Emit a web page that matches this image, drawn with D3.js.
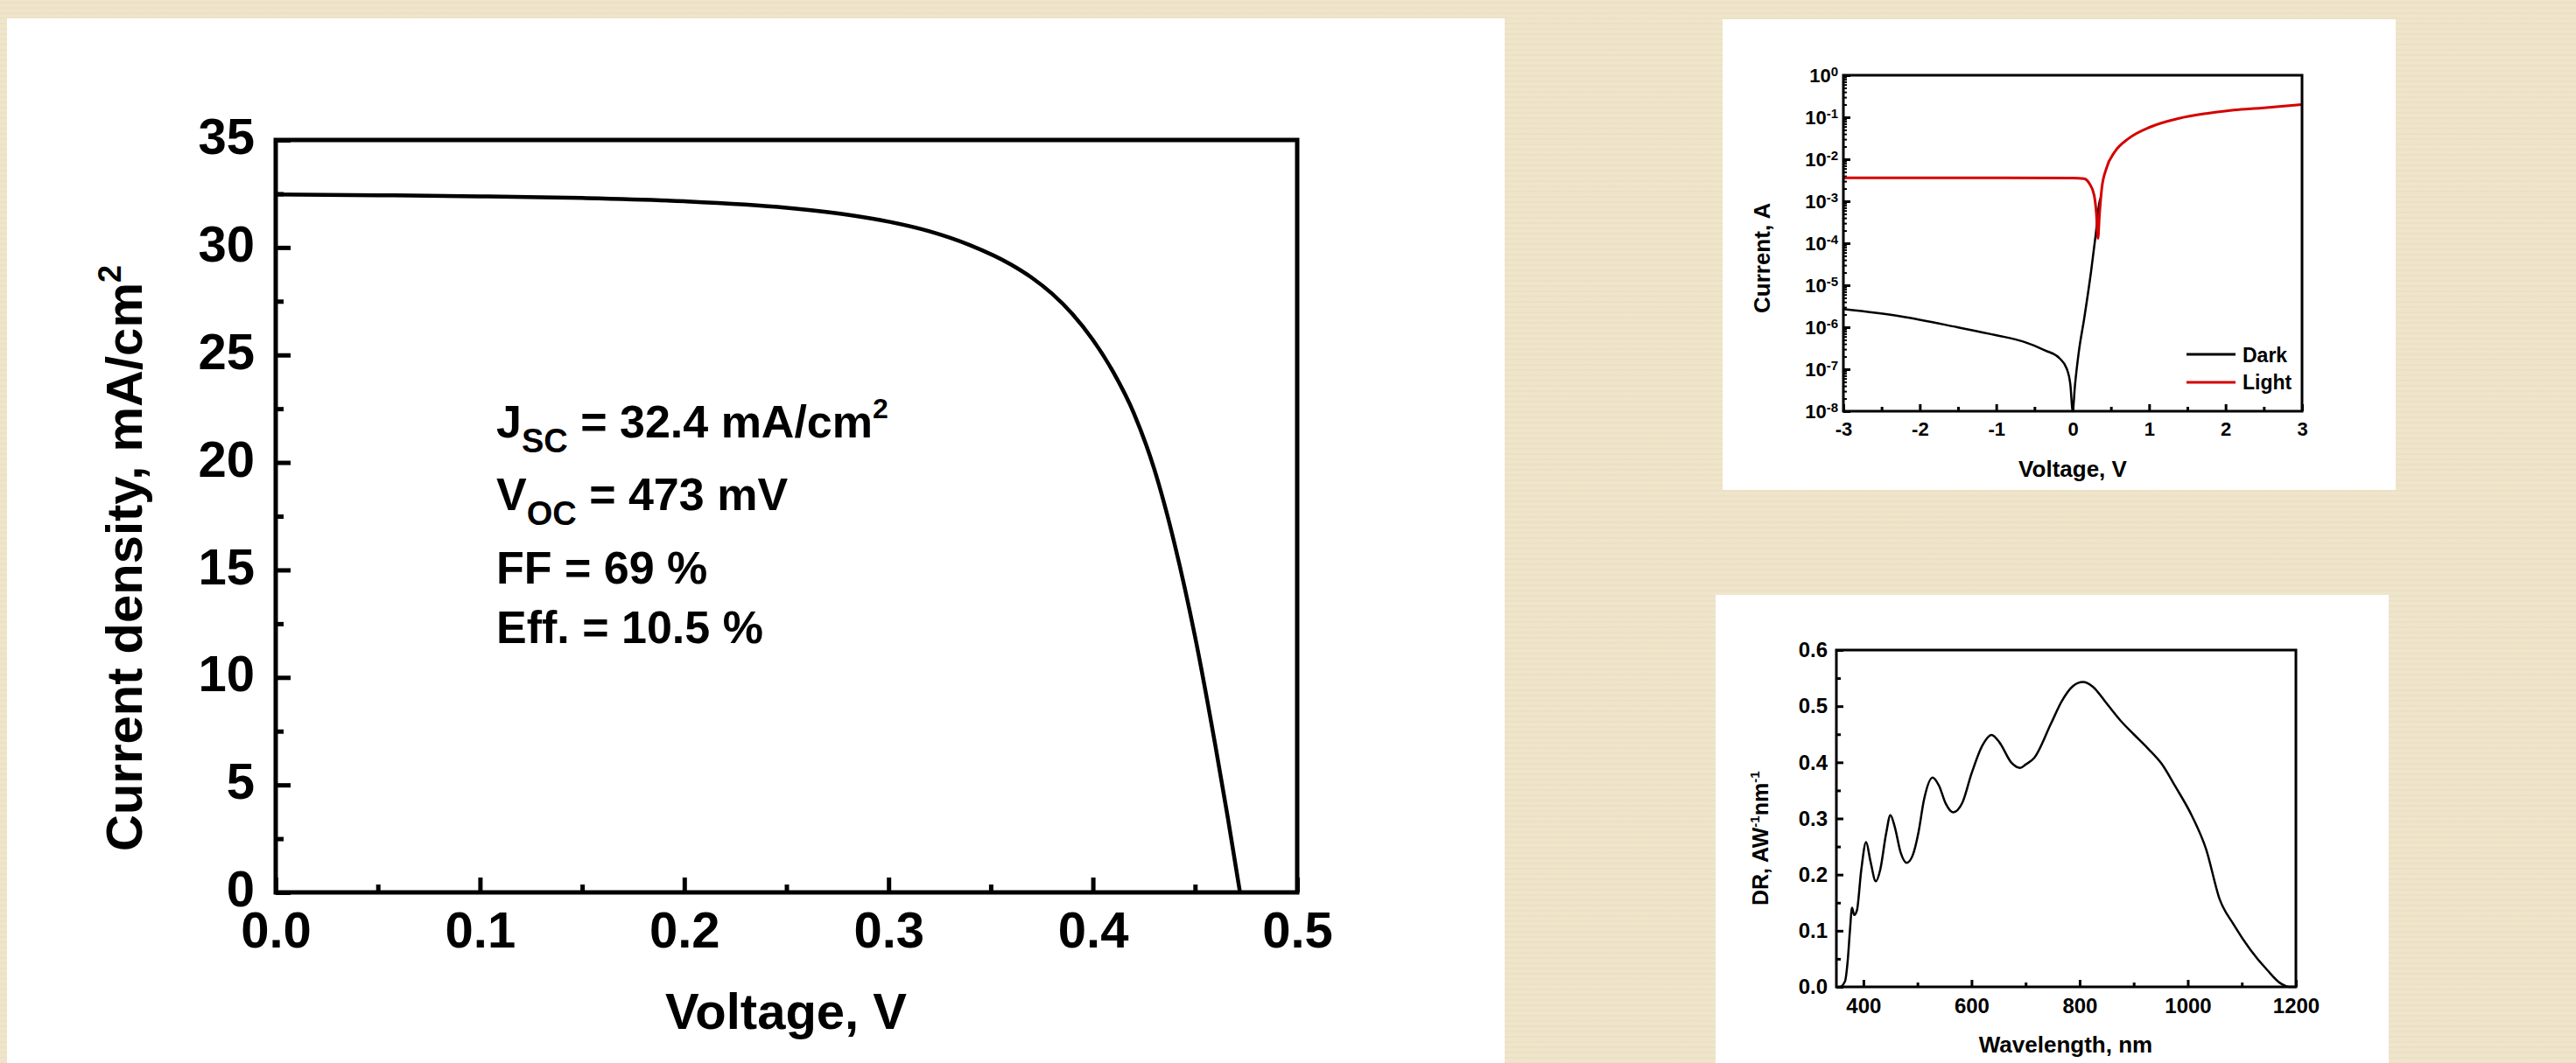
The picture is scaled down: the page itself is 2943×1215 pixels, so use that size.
<html>
<head>
	<meta charset="utf-8">
	<style>
		body { margin: 0; background: #efe5cb; }
		svg { display: block; }
		text { font-family: "Liberation Sans", Arial, sans-serif; font-weight: bold; fill: #000; }
	</style>
</head>
<body>
	<script src="https://d3js.org/d3.v7.min.js" charset="utf-8"></script>
	<script>
	// J-V curve under light
	var jvVoltage = [0, 0.05, 0.1, 0.15, 0.2, 0.25, 0.28, 0.3, 0.32, 0.34, 0.36, 0.37, 0.38, 0.39, 0.4, 0.41, 0.42, 0.43, 0.44, 0.45, 0.46, 0.466, 0.472];
	var jvCurrent = [32.47, 32.43, 32.38, 32.3, 32.15, 31.85, 31.52, 31.2, 30.75, 30.1, 29.2, 28.6, 27.85, 26.9, 25.7, 24.2, 22.3, 19.7, 16.2, 11.9, 6.8, 3.5, 0];
	var jvXTicks = [0, 0.1, 0.2, 0.3, 0.4, 0.5];
	var jvYTicks = [0, 5, 10, 15, 20, 25, 30, 35];
	var jvNotes = ["J|SC| = 32.4 mA/cm|2", "V|OC| = 473 mV", "FF = 69 %", "Eff. = 10.5 %"];

	// I-V, log scale, dark and light
	var darkVoltage = [-3, -2.24, -1.51, -1.01, -0.64, -0.36, -0.17, -0.08, -0.03, 0, 0.03, 0.08, 0.15, 0.24, 0.3, 0.35, 0.365];
	var darkCurrent = [2.7e-6, 1.8e-6, 1.0e-6, 6.5e-7, 4.5e-7, 2.8e-7, 1.8e-7, 1.05e-7, 4.2e-8, 1e-8, 4.2e-8, 2.6e-7, 1.6e-6, 2.1e-5, 1.55e-4, 9.5e-4, 1.2e-3];
	var lightVoltage = [-3, -1.5, 0, 0.15, 0.22, 0.28, 0.31, 0.33, 0.35, 0.38, 0.44, 0.55, 0.73, 1.02, 1.38, 1.75, 2.11, 2.47, 3.0];
	var lightCurrent = [3.6e-3, 3.6e-3, 3.55e-3, 3.45e-3, 2.6e-3, 1.4e-3, 5e-4, 1.3e-4, 4.7e-4, 2.0e-3, 6.0e-3, 1.5e-2, 3.1e-2, 5.9e-2, 9.3e-2, 0.123, 0.148, 0.166, 0.2];
	var ivXTicks = [-3, -2, -1, 0, 1, 2, 3];
	var ivYExponents = [0, -1, -2, -3, -4, -5, -6, -7, -8];
	var ivSeries = ["Dark", "Light"];

	// spectral response
	var drWavelength = [358, 366, 371, 375, 379, 383, 388, 396, 405, 413, 423, 431, 442, 450, 458, 469, 480, 491, 502, 512, 528, 540, 552, 566, 583, 600, 620, 637, 652, 674, 690, 700, 716, 747, 767, 788, 806, 824, 849, 875, 900, 926, 952, 977, 1008, 1034, 1059, 1085, 1116, 1147, 1172, 1188, 1200];
	var drValue = [0, 0.01, 0.047, 0.099, 0.141, 0.128, 0.136, 0.208, 0.258, 0.224, 0.188, 0.208, 0.273, 0.306, 0.285, 0.239, 0.221, 0.234, 0.276, 0.333, 0.373, 0.358, 0.327, 0.311, 0.328, 0.38, 0.43, 0.449, 0.435, 0.399, 0.39, 0.396, 0.408, 0.469, 0.509, 0.536, 0.543, 0.535, 0.506, 0.475, 0.45, 0.425, 0.397, 0.357, 0.304, 0.245, 0.156, 0.111, 0.066, 0.03, 0.006, 0, 0];
	var drXTicks = [400, 600, 800, 1000, 1200];
	var drYTicks = [0, 0.1, 0.2, 0.3, 0.4, 0.5, 0.6];

	var svg = d3.select("body")
		.append("svg")
		.attr("width", 2943)
		.attr("height", 1215);

	// beige zigzag background
	var pat = svg.append("defs").append("pattern")
		.attr("id", "bg")
		.attr("width", 6)
		.attr("height", 6)
		.attr("patternUnits", "userSpaceOnUse");
	pat.append("rect").attr("width", 6).attr("height", 6).attr("fill", "#efe5cb");
	pat.append("path").attr("d", "M0,4 L1.5,2 L3,4 L4.5,2 L6,4")
		.attr("fill", "none").attr("stroke", "#e8dcbd").attr("stroke-width", 0.8);
	svg.append("rect").attr("width", 2943).attr("height", 1215).attr("fill", "url(#bg)");

	// white panels
	svg.append("rect").attr("x", 8).attr("y", 21).attr("width", 1711).attr("height", 1200).attr("fill", "#fff");
	svg.append("rect").attr("x", 1968).attr("y", 22).attr("width", 769).attr("height", 538).attr("fill", "#fff");
	svg.append("rect").attr("x", 1960).attr("y", 680).attr("width", 769).attr("height", 540).attr("fill", "#fff");

	function zip(a, b) {
		return a.map(function(d, i) { return [d, b[i]]; });
	}

	function box(g, x, y, sw) {
		g.append("rect")
			.attr("x", x.range()[0]).attr("y", y.range()[1])
			.attr("width", x.range()[1] - x.range()[0])
			.attr("height", y.range()[0] - y.range()[1])
			.attr("fill", "none").attr("stroke", "#000").attr("stroke-width", sw);
	}

	function ticks(g, axis, tr, sw, fs) {
		var a = g.append("g").attr("transform", tr).call(axis);
		a.select(".domain").remove();
		a.selectAll("line").attr("stroke", "#000").attr("stroke-width", sw);
		a.selectAll("text").attr("font-size", fs).attr("font-family", null);
		return a;
	}

	//1. J-V plot
	var jx = d3.scaleLinear().domain([0, 0.5]).range([315, 1482]);
	var jy = d3.scaleLinear().domain([0, 35]).range([1020, 160]);
	var g1 = svg.append("g");

	ticks(g1, d3.axisBottom(jx).tickValues(d3.range(0.05, 0.5, 0.1)).tickSize(-9).tickFormat(""), "translate(0,1020)", 5, 58);
	ticks(g1, d3.axisBottom(jx).tickValues(jvXTicks).tickSize(-17).tickSizeOuter(0).tickPadding(22).tickFormat(d3.format(".1f")), "translate(0,1020)", 5, 58);
	ticks(g1, d3.axisLeft(jy).tickValues(d3.range(2.5, 35, 5)).tickSize(-9).tickFormat(""), "translate(315,0)", 5, 58);
	ticks(g1, d3.axisLeft(jy).tickValues(jvYTicks).tickSize(-17).tickPadding(24).tickFormat(d3.format("d")), "translate(315,0)", 5, 58)
		.selectAll("text").attr("dy", "0.27em");

	g1.append("path")
		.datum(zip(jvVoltage, jvCurrent))
		.attr("fill", "none").attr("stroke", "#000").attr("stroke-width", 4.5)
		.attr("d", d3.line().x(function(d) { return jx(d[0]); }).y(function(d) { return jy(d[1]); }).curve(d3.curveMonotoneX));
	box(g1, jx, jy, 5);

	g1.append("text").attr("x", 898).attr("y", 1176).attr("text-anchor", "middle").attr("font-size", 58).text("Voltage, V");
	var t1 = g1.append("text").attr("transform", "translate(162,973) rotate(-90)").attr("font-size", 58);
	t1.append("tspan").text("Current density, mA/cm");
	t1.append("tspan").attr("dy", -24).attr("font-size", 36).text("2");

	// parameters: parts split by "|", odd part = subscript, last part after "cm" = superscript
	var noteY = [500, 583, 667, 735];
	jvNotes.forEach(function(s, i) {
		var parts = s.split("|");
		var t = g1.append("text").attr("x", 567).attr("y", noteY[i]).attr("font-size", 52);
		if (parts.length == 1) { t.text(s); return; }
		t.append("tspan").text(parts[0]);
		t.append("tspan").attr("dy", 17).attr("font-size", 38).text(parts[1]);
		t.append("tspan").attr("dy", -17).text(parts[2]);
		if (parts[3]) t.append("tspan").attr("dy", -22).attr("font-size", 32).text(parts[3]);
	});

	//2. log I-V plot
	var ix = d3.scaleLinear().domain([-3, 3]).range([2106, 2630]);
	var iy = d3.scaleLog().domain([1e-8, 1]).range([470, 86]);
	var g2 = svg.append("g");
	var minor = [];
	ivYExponents.slice(1).forEach(function(e) {
		for (var k = 2; k < 10; k++) minor.push(k * Math.pow(10, e));
	});

	ticks(g2, d3.axisBottom(ix).tickValues(d3.range(-2.5, 3, 1)).tickSize(-5).tickFormat(""), "translate(0,470)", 3, 22);
	ticks(g2, d3.axisBottom(ix).tickValues(ivXTicks).tickSize(-8).tickPadding(12).tickFormat(d3.format("d")), "translate(0,470)", 3, 22)
		.selectAll("text").text(function(d) { return String(d); });
	ticks(g2, d3.axisLeft(iy).tickValues(minor).tickSize(-4).tickFormat(""), "translate(2106,0)", 2, 22);
	var ya = ticks(g2, d3.axisLeft(iy).tickValues(ivYExponents.map(function(e) { return Math.pow(10, e); })).tickSize(-8).tickPadding(6).tickFormat(""), "translate(2106,0)", 3, 22);
	ya.selectAll(".tick text").each(function(d) {
		var t = d3.select(this);
		t.append("tspan").text("10");
		t.append("tspan").attr("dy", "-0.45em").attr("font-size", 15).text(String(Math.round(Math.log10(d))));
	});

	var ivLine = d3.line().x(function(d) { return ix(d[0]); }).y(function(d) { return iy(d[1]); }).curve(d3.curveMonotoneX);
	g2.append("path").datum(zip(darkVoltage, darkCurrent))
		.attr("fill", "none").attr("stroke", "#000").attr("stroke-width", 2.5).attr("d", ivLine);
	g2.append("path").datum(zip(lightVoltage, lightCurrent))
		.attr("fill", "none").attr("stroke", "#d40000").attr("stroke-width", 3).attr("d", ivLine);
	box(g2, ix, iy, 3);

	var colors = ["#000", "#d40000"];
	ivSeries.forEach(function(s, i) {
		g2.append("line").attr("x1", 2498).attr("x2", 2554).attr("y1", 405 + i * 32).attr("y2", 405 + i * 32)
			.attr("stroke", colors[i]).attr("stroke-width", 3);
		g2.append("text").attr("x", 2562).attr("y", 414 + i * 31).attr("font-size", 23).text(s);
	});

	g2.append("text").attr("x", 2368).attr("y", 545).attr("text-anchor", "middle").attr("font-size", 26).text("Voltage, V");
	g2.append("text").attr("transform", "translate(2022,358) rotate(-90)").attr("font-size", 26).text("Current, A");

	//3. spectral response plot
	var dx = d3.scaleLinear().domain([350, 1200]).range([2098, 2623]);
	var dy = d3.scaleLinear().domain([0, 0.6]).range([1128, 743]);
	var g3 = svg.append("g");

	ticks(g3, d3.axisBottom(dx).tickValues([500, 700, 900, 1100]).tickSize(-5).tickFormat(""), "translate(0,1128)", 3, 24);
	ticks(g3, d3.axisBottom(dx).tickValues(drXTicks).tickSize(-8).tickPadding(13).tickFormat(d3.format("d")), "translate(0,1128)", 3, 24);
	ticks(g3, d3.axisLeft(dy).tickValues(d3.range(0.05, 0.6, 0.1)).tickSize(-5).tickFormat(""), "translate(2098,0)", 3, 24);
	ticks(g3, d3.axisLeft(dy).tickValues(drYTicks).tickSize(-8).tickPadding(10).tickFormat(d3.format(".1f")), "translate(2098,0)", 3, 24);

	g3.append("path").datum(zip(drWavelength, drValue))
		.attr("fill", "none").attr("stroke", "#000").attr("stroke-width", 2.5)
		.attr("d", d3.line().x(function(d) { return dx(d[0]); }).y(function(d) { return dy(d[1]); }).curve(d3.curveMonotoneX));
	box(g3, dx, dy, 3);

	g3.append("text").attr("x", 2360).attr("y", 1203).attr("text-anchor", "middle").attr("font-size", 26).text("Wavelength, nm");
	var t3 = g3.append("text").attr("transform", "translate(2020,1035) rotate(-90)").attr("font-size", 25);
	t3.append("tspan").text("DR, AW");
	t3.append("tspan").attr("dy", -10).attr("font-size", 15).text("-1");
	t3.append("tspan").attr("dy", 10).text("nm");
	t3.append("tspan").attr("dy", -10).attr("font-size", 15).text("-1");
	</script>
</body>
</html>
